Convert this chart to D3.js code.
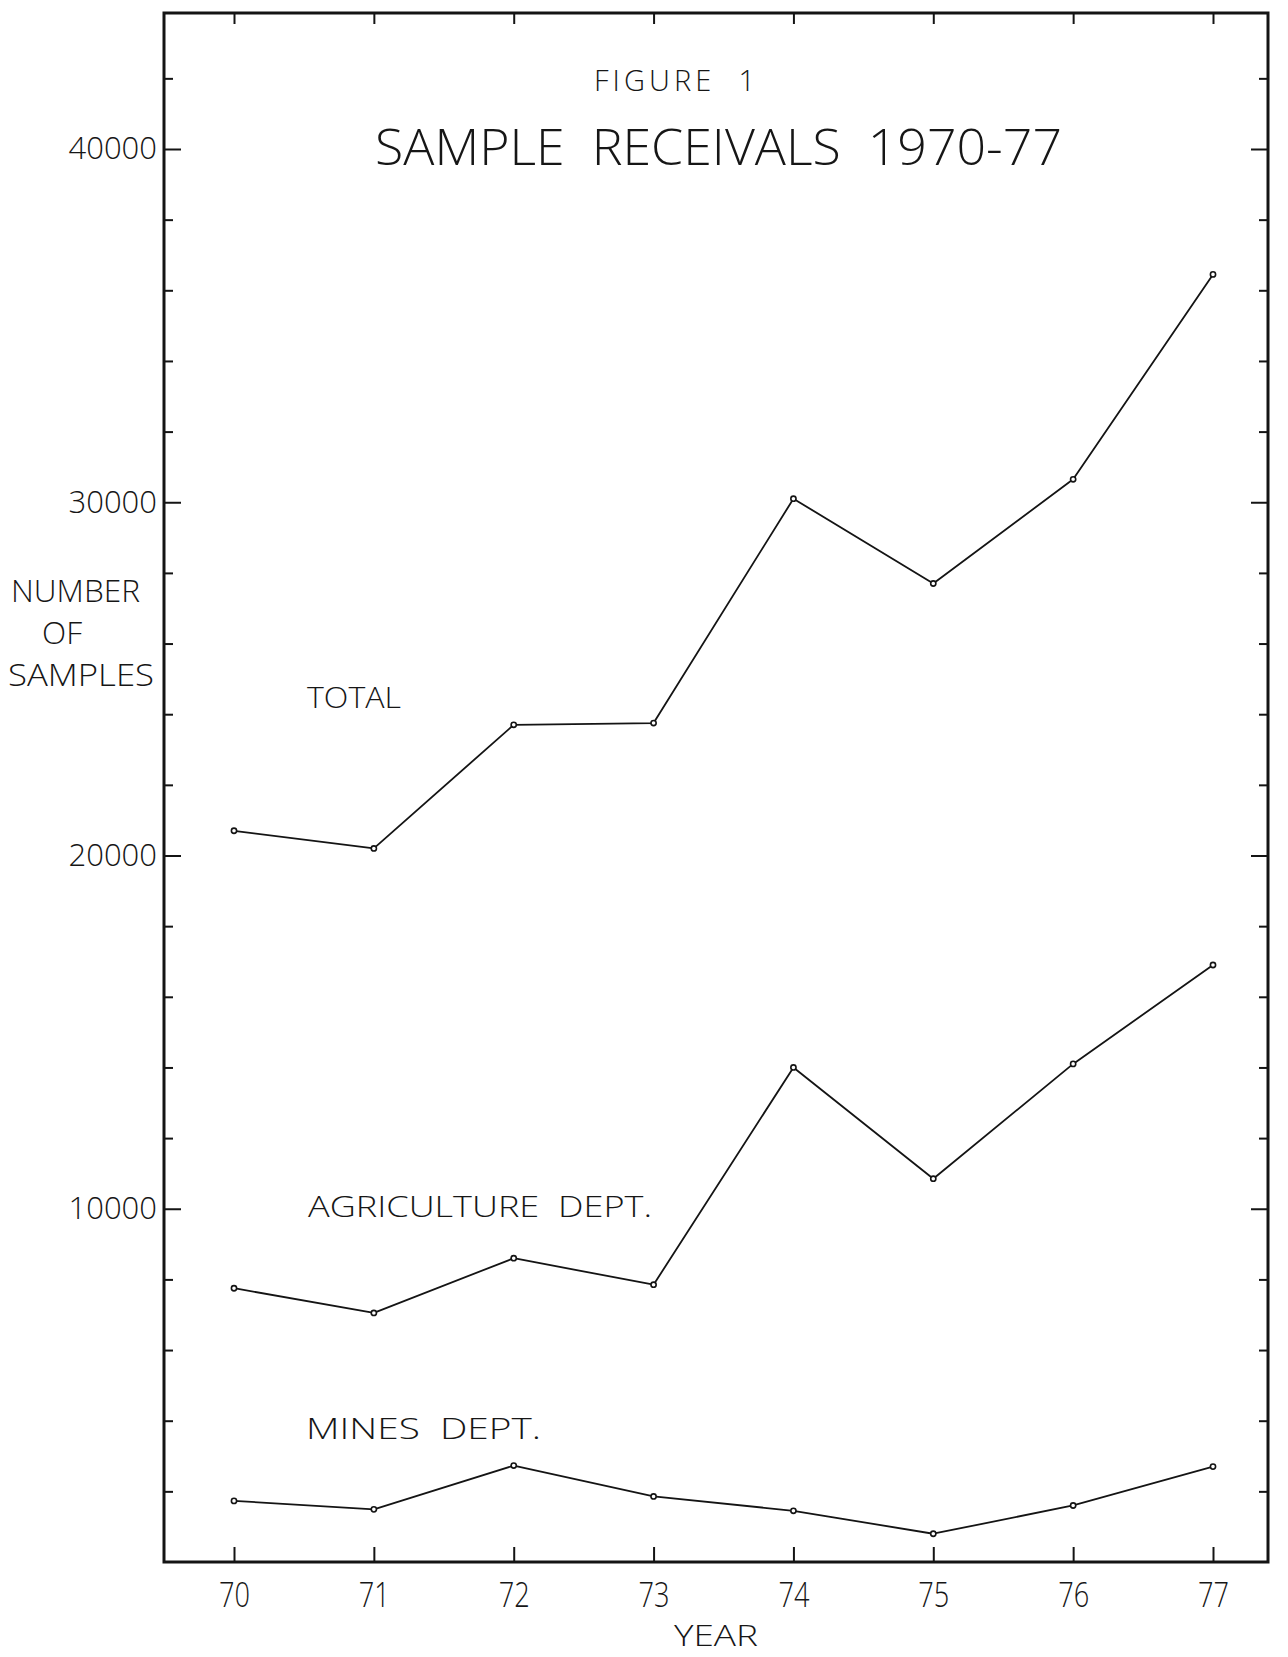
<!DOCTYPE html>
<html>
<head>
<meta charset="utf-8">
<script src="https://cdn.jsdelivr.net/npm/d3@7"></script>
<style>
  html, body { margin: 0; padding: 0; background: #fff; }
  svg { display: block; }
  text { font-family: "Open Sans", "Liberation Sans", sans-serif; font-weight: 300; fill: #161616; }
  .ytick text { font-size: 31px; }
  .xtick text { font-size: 34px; }
</style>
</head>
<body>
<svg id="chart" width="1288" height="1657"></svg>
<script>
// ---------------- data ----------------
const years = [70, 71, 72, 73, 74, 75, 76, 77];
const yearLabels = ["70", "71", "72", "73", "74", "75", "76", "77"];
const totalSamples       = [20700, 20200, 23700, 23750, 30100, 27700, 30650, 36450];
const agricultureSamples = [7750, 7050, 8600, 7850, 14000, 10850, 14100, 16900];
const minesSamples       = [1730, 1490, 2730, 1855, 1450, 800, 1600, 2700];
const seriesNames = ["TOTAL", "AGRICULTURE  DEPT.", "MINES  DEPT."];
const yMajorTicks = [10000, 20000, 30000, 40000];
const yMajorLabels = ["10000", "20000", "30000", "40000"];
const yMinorTicks = [2000, 4000, 6000, 8000, 12000, 14000, 16000, 18000,
                     22000, 24000, 26000, 28000, 32000, 34000, 36000, 38000, 42000];
const titleText = "SAMPLE  RECEIVALS  1970-77";
const figureText = "FIGURE  1";
const yTitleLines = ["NUMBER", "OF", "SAMPLES"];
const xTitle = "YEAR";

// ---------------- layout ----------------
const svg = d3.select("#chart");
const x = d3.scaleLinear().domain([70, 77]).range([234, 1213]);
const y = d3.scaleLinear().domain([0, 40000]).range([1562, 149]);
const frame = { left: 164, right: 1268, top: 13, bottom: y(0) };
const ink = "#141414";

function clean(g) {
  g.select(".domain").remove();
  g.attr("font-family", null).attr("font-size", null).attr("color", ink);
  g.selectAll("line").attr("stroke-width", 2);
}

// left axis: minor + major ticks pointing inward, labels outside
svg.append("g").attr("transform", `translate(${frame.left},0)`)
  .call(d3.axisLeft(y).tickValues(yMinorTicks).tickSize(-9).tickFormat(""))
  .call(clean);
svg.append("g").attr("class", "ytick").attr("transform", `translate(${frame.left},0)`)
  .call(d3.axisLeft(y).tickValues(yMajorTicks).tickSize(-17).tickPadding(7)
        .tickFormat((d, i) => yMajorLabels[i]))
  .call(clean);

// right axis (mirror)
svg.append("g").attr("transform", `translate(${frame.right},0)`)
  .call(d3.axisRight(y).tickValues(yMinorTicks).tickSize(-9).tickFormat(""))
  .call(clean);
svg.append("g").attr("transform", `translate(${frame.right},0)`)
  .call(d3.axisRight(y).tickValues(yMajorTicks).tickSize(-17).tickFormat(""))
  .call(clean);

// top axis ticks
svg.append("g").attr("transform", `translate(0,${frame.top})`)
  .call(d3.axisTop(x).tickValues(years).tickSize(-11).tickFormat(""))
  .call(clean);

// bottom axis
svg.append("g").attr("class", "xtick").attr("transform", `translate(0,${frame.bottom})`)
  .call(d3.axisBottom(x).tickValues(years).tickSize(-15).tickPadding(21)
        .tickFormat((d, i) => yearLabels[i]))
  .call(clean)
  .call(g => g.selectAll("text").attr("textLength", 31).attr("lengthAdjust", "spacingAndGlyphs"));

// frame
svg.append("rect")
  .attr("x", frame.left).attr("y", frame.top)
  .attr("width", frame.right - frame.left).attr("height", frame.bottom - frame.top)
  .attr("fill", "none").attr("stroke", ink).attr("stroke-width", 3);

// series lines
const line = d3.line().x((d, i) => x(years[i])).y(d => y(d));
const allSeries = [totalSamples, agricultureSamples, minesSamples];
allSeries.forEach(vals => {
  svg.append("path").datum(vals)
    .attr("d", line)
    .attr("fill", "none").attr("stroke", ink).attr("stroke-width", 1.8)
    .attr("stroke-linejoin", "round");
  svg.append("g").selectAll("circle").data(vals).join("circle")
    .attr("cx", (d, i) => x(years[i])).attr("cy", d => y(d))
    .attr("r", 2.6).attr("fill", "#fff").attr("stroke", ink).attr("stroke-width", 1.6);
});

// series labels
const seriesLabelPos = [
  { x: 307, y: 708, w: 94, fs: 30 },
  { x: 308, y: 1217, w: 344, fs: 29 },
  { x: 306, y: 1439, w: 235, fs: 29 }
];
seriesNames.forEach((s, i) => {
  svg.append("text").attr("x", seriesLabelPos[i].x).attr("y", seriesLabelPos[i].y)
    .attr("font-size", seriesLabelPos[i].fs)
    .attr("textLength", seriesLabelPos[i].w).attr("lengthAdjust", "spacingAndGlyphs")
    .style("white-space", "pre")
    .text(s);
});

// titles
svg.append("text").attr("x", 594).attr("y", 91).attr("font-size", 29)
  .attr("textLength", 161).attr("lengthAdjust", "spacing")
  .style("white-space", "pre").text(figureText);
svg.append("text").attr("x", 375).attr("y", 165).attr("font-size", 49)
  .attr("textLength", 687).attr("lengthAdjust", "spacingAndGlyphs")
  .style("white-space", "pre").text(titleText);

// y title
const yTitlePos = [
  { x: 11, y: 602, w: 129 },
  { x: 42, y: 644, w: 40 },
  { x: 8, y: 686, w: 146 }
];
yTitleLines.forEach((t, i) => {
  svg.append("text").attr("x", yTitlePos[i].x).attr("y", yTitlePos[i].y)
    .attr("font-size", 31)
    .attr("textLength", yTitlePos[i].w).attr("lengthAdjust", "spacingAndGlyphs")
    .text(t);
});

// x title
svg.append("text").attr("x", 716).attr("y", 1646).attr("font-size", 29)
  .attr("text-anchor", "middle")
  .attr("textLength", 84).attr("lengthAdjust", "spacingAndGlyphs")
  .text(xTitle);
</script>
</body>
</html>
